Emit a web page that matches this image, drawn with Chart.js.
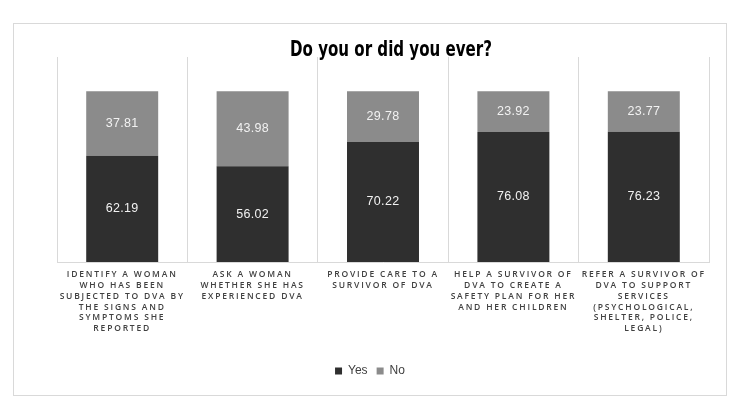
<!DOCTYPE html>
<html>
<head>
<meta charset="utf-8">
<script src="https://cdn.jsdelivr.net/npm/chart.js@4.4.1/dist/chart.umd.min.js"></script>
<style>
  html, body { margin: 0; padding: 0; background: #fff; }
  #wrap { position: absolute; left: 13px; top: 23px; width: 712px; height: 371px; border: 1px solid #d9d9d9; }
  canvas { display: block; }
</style>
</head>
<body>
<div id="wrap"><canvas id="c" width="712" height="371"></canvas></div>
<script>
const titleText = "Do you or did you ever?";
const categories = [
  ["IDENTIFY A WOMAN", "WHO HAS BEEN", "SUBJECTED TO DVA BY", "THE SIGNS AND", "SYMPTOMS SHE", "REPORTED"],
  ["ASK A WOMAN", "WHETHER SHE HAS", "EXPERIENCED DVA"],
  ["PROVIDE CARE TO A", "SURVIVOR OF DVA"],
  ["HELP A SURVIVOR OF", "DVA TO CREATE A", "SAFETY PLAN FOR HER", "AND HER CHILDREN"],
  ["REFER A SURVIVOR OF", "DVA TO SUPPORT", "SERVICES", "(PSYCHOLOGICAL,", "SHELTER, POLICE,", "LEGAL)"]
];
const yesValues = [62.19, 56.02, 70.22, 76.08, 76.23];
const noValues = [37.81, 43.98, 29.78, 23.92, 23.77];
const seriesNames = ["Yes", "No"];

const titlePlugin = {
  id: 'customTitle',
  afterDraw(chart) {
    const ctx = chart.ctx;
    ctx.save();
    ctx.letterSpacing = '0px';
    ctx.font = 'bold 22px "Liberation Sans Narrow", "DejaVu Sans Condensed", sans-serif';
    const w = ctx.measureText(titleText).width;
    const target = 202;
    const sx = target / w;
    ctx.translate(377, 26);
    ctx.scale(sx, 1);
    ctx.fillStyle = '#000';
    ctx.textAlign = 'center';
    ctx.textBaseline = 'middle';
    ctx.fillText(titleText, 0, 0);
    ctx.restore();
  }
};

const spacingPlugin = {
  id: 'spacing',
  beforeDraw(chart) {
    const sc = chart.scales.x;
    if (sc && !sc._spacedWrap) {
      const orig = sc.drawLabels;
      sc.drawLabels = function (area) {
        const ctx = this.ctx;
        const prev = ctx.letterSpacing;
        ctx.letterSpacing = '1.8px';
        orig.call(this, area);
        ctx.letterSpacing = prev || '0px';
      };
      sc._spacedWrap = true;
    }
  },
  afterDatasetsDraw(chart) {
    const ctx = chart.ctx;
    ctx.save();
    ctx.letterSpacing = '0.3px';
    ctx.font = '12.5px "Liberation Sans", Arial, sans-serif';
    ctx.fillStyle = '#f2f2f2';
    ctx.textAlign = 'center';
    ctx.textBaseline = 'middle';
    chart.data.datasets.forEach((ds, i) => {
      const meta = chart.getDatasetMeta(i);
      meta.data.forEach((bar, j) => {
        const cy = (bar.y + bar.base) / 2;
        ctx.fillText(ds.data[j].toFixed(2), bar.x, cy);
      });
    });
    ctx.restore();
  }
};

new Chart(document.getElementById('c'), {
  type: 'bar',
  data: {
    labels: categories,
    datasets: [
      { label: seriesNames[0], data: yesValues, backgroundColor: '#2f2f2f', categoryPercentage: 1, barPercentage: 0.552 },
      { label: seriesNames[1], data: noValues, backgroundColor: '#8b8b8b', categoryPercentage: 1, barPercentage: 0.552 }
    ]
  },
  options: {
    responsive: false,
    animation: false,
    layout: { padding: { left: 17, right: 17, top: 33, bottom: 8 } },
    plugins: {
      title: { display: false },
      tooltip: { enabled: false },
      legend: {
        position: 'bottom',
        labels: {
          boxWidth: 7, boxHeight: 7, padding: 9,
          color: '#404040',
          font: { family: '"Liberation Sans", Arial, sans-serif', size: 12 }
        }
      }
    },
    scales: {
      x: {
        stacked: true,
        grid: { display: true, offset: true, color: '#d9d9d9', drawTicks: false, lineWidth: 1 },
        border: { display: true, color: '#d9d9d9' },
        ticks: {
          autoSkip: false, maxRotation: 0, minRotation: 0, padding: 7,
          color: '#404040',
          font: { family: '"Open Sans", sans-serif', size: 8.5, weight: '600', lineHeight: 1.28 }
        },
        afterFit(scale) { scale.height = 94; }
      },
      y: {
        stacked: true, min: 0, max: 120, display: true,
        grid: { display: false, drawTicks: false },
        border: { display: false },
        ticks: { display: false },
        afterFit(scale) { scale.width = 26; }
      }
    }
  },
  plugins: [spacingPlugin, titlePlugin]
});
</script>
</body>
</html>
